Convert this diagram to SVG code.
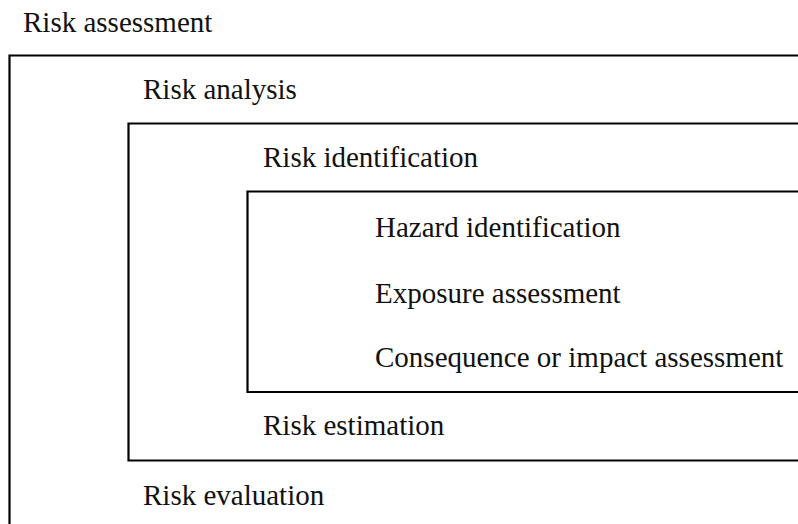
<svg xmlns="http://www.w3.org/2000/svg" width="798" height="524" viewBox="0 0 798 524">
<style>
.box{fill:none;stroke:#000;stroke-width:2.2}
.t{font-family:"Liberation Serif","Times New Roman",serif;font-size:29px;fill:#111}
</style>
<rect width="798" height="524" fill="#fff"/>
<g id="risk-assessment">
<path class="box" d="M800,55.5 H9.5 V526"/>
<text class="t" x="23" y="32">Risk assessment</text>
<text class="t" x="143" y="505">Risk evaluation</text>
</g>
<g id="risk-analysis">
<path class="box" d="M800,123.5 H128.5 V460.5 H800"/>
<text class="t" x="143" y="99">Risk analysis</text>
<text class="t" x="263" y="435">Risk estimation</text>
</g>
<g id="risk-identification">
<path class="box" d="M800,191.5 H247.5 V392 H800"/>
<text class="t" x="263" y="167">Risk identification</text>
</g>
<g id="hazard-identification">
<text class="t" x="375" y="237">Hazard identification</text>
</g>
<g id="exposure-assessment">
<text class="t" x="375" y="303">Exposure assessment</text>
</g>
<g id="consequence-assessment">
<text class="t" x="375" y="367">Consequence or impact assessment</text>
</g>
<g id="connectors"></g>
</svg>
